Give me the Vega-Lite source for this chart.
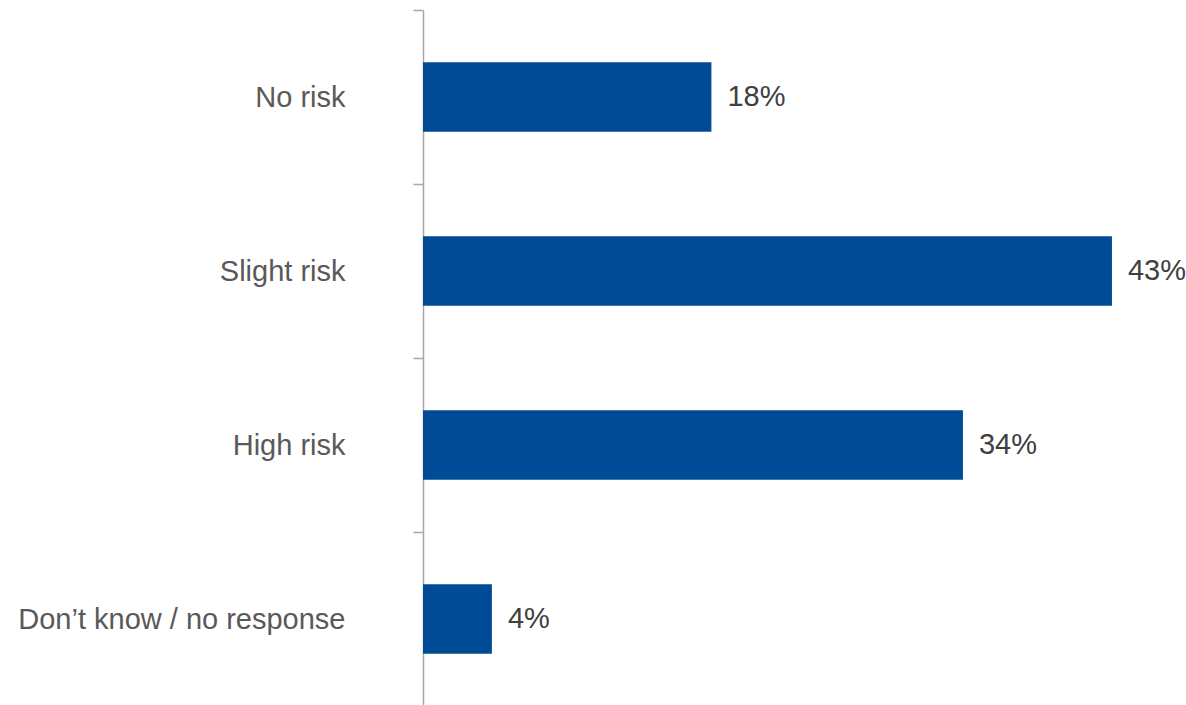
{
  "$schema": "https://vega.github.io/schema/vega-lite/v6.json",
  "width": 721,
  "height": 696,
  "autosize": {"type": "none"},
  "padding": {"left": 423, "top": 10, "right": 42, "bottom": 0},
  "background": "white",
  "config": {"view": {"stroke": null}, "font": "Liberation Sans"},
  "data": {
    "values": [
      {"category": "No risk", "value": 18.0, "label": "18%"},
      {"category": "Slight risk", "value": 43.0, "label": "43%"},
      {"category": "High risk", "value": 33.7, "label": "34%"},
      {"category": "Don’t know / no response", "value": 4.3, "label": "4%"}
    ]
  },
  "encoding": {
    "y": {
      "field": "category",
      "type": "nominal",
      "sort": null,
      "scale": {"paddingInner": 0, "paddingOuter": 0},
      "axis": {
        "title": null,
        "domainColor": "#a6a6a6",
        "domainWidth": 1.5,
        "tickColor": "#a6a6a6",
        "tickWidth": 1.5,
        "tickSize": 10,
        "tickBand": "extent",
        "labelFontSize": 29,
        "labelColor": "#595959",
        "labelPadding": 68,
        "labelLimit": 500,
        "labelFont": "Liberation Sans"
      }
    },
    "x": {
      "field": "value",
      "type": "quantitative",
      "scale": {"domain": [0, 45]},
      "axis": null
    }
  },
  "layer": [
    {"mark": {"type": "bar", "color": "#004b96", "height": {"band": 0.4}}},
    {
      "mark": {"type": "text", "align": "left", "dx": 16, "fontSize": 29, "color": "#404040", "font": "Liberation Sans"},
      "encoding": {"text": {"field": "label"}}
    }
  ]
}
